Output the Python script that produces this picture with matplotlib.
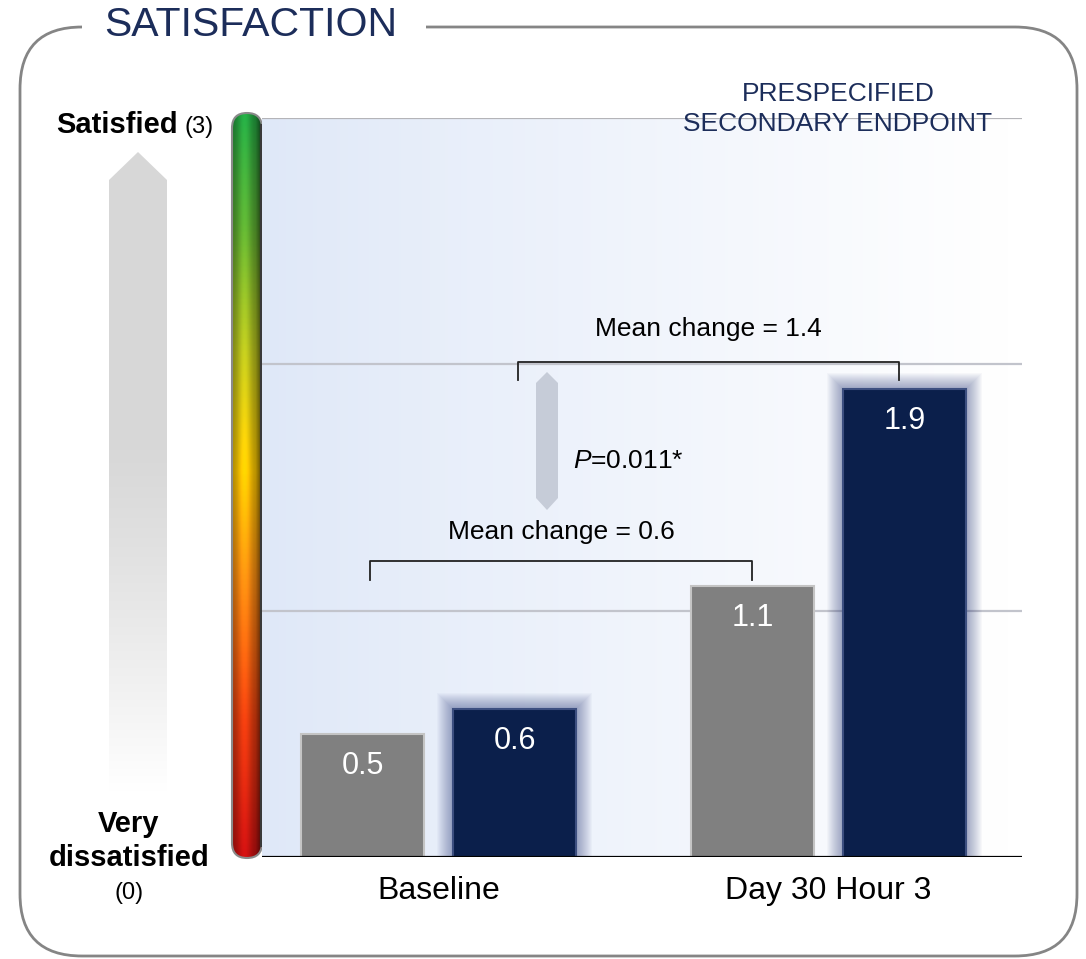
import numpy as np
import matplotlib
matplotlib.use("Agg")
import matplotlib.pyplot as plt
from matplotlib.patches import FancyBboxPatch, Polygon, Rectangle
from matplotlib.colors import LinearSegmentedColormap, to_rgb

plt.rcParams['font.family'] = ['Liberation Sans', 'DejaVu Sans']
plt.rcParams['mathtext.fontset'] = 'custom'
plt.rcParams['mathtext.it'] = 'Liberation Sans:italic'
plt.rcParams['mathtext.rm'] = 'Liberation Sans'

# ---------------- data ----------------
categories = ["Baseline", "Day 30 Hour 3"]
series_gray = [0.5, 1.1]
series_navy = [0.6, 1.9]
labels_gray = ["0.5", "1.1"]
labels_navy = ["0.6", "1.9"]
mean_change_labels = ["Mean change = 0.6", "Mean change = 1.4"]
p_label = r"$P$=0.011*"
title = "SATISFACTION"
subtitle = "PRESPECIFIED\nSECONDARY ENDPOINT"
y_max_label = ("Satisfied", "(3)")
y_min_label = ("Very\ndissatisfied", "(0)")
y_max = 3
gridlines = [1, 2]

NAVY = "#0b1f4b"
GRAY = "#808080"
TXT_NAVY = "#1c2d5a"

W, H = 1086, 959
fig = plt.figure(figsize=(W / 100, H / 100), dpi=100)
fig.patch.set_facecolor("white")

# pixel overlay axes
ax0 = fig.add_axes([0, 0, 1, 1], zorder=0)
ax0.set_xlim(0, W)
ax0.set_ylim(H, 0)
ax0.axis("off")

# frame
frame = FancyBboxPatch((20, 27), 1057, 929, boxstyle="round,pad=0,rounding_size=62",
                       facecolor="none", edgecolor="#858585", lw=2.0)
ax0.add_patch(frame)
ax0.add_patch(Rectangle((82, 15), 344, 25, facecolor="white", edgecolor="none", zorder=3))
ax0.text(251, 25, title, fontsize=29.5, color=TXT_NAVY, ha="center", va="center", zorder=4)

# big gray arrow on the left
arrow_poly = Polygon([(109, 792), (109, 180), (138, 152), (167, 180), (167, 792)],
                     closed=True, facecolor="none", edgecolor="none")
ax0.add_patch(arrow_poly)
rows = np.linspace(0, 1, 300)
val = np.where(rows < 0.45, 0.845, 0.845 + (1 - 0.845) * ((rows - 0.45) / 0.55) ** 1.2)
arr_img = np.repeat(val[:, None], 4, axis=1)
arr_rgb = np.dstack([arr_img, arr_img, arr_img])
im = ax0.imshow(arr_rgb, extent=(109, 167, 792, 152), aspect="auto", zorder=1)
im.set_clip_path(arrow_poly)

# left labels
ax0.text(178, 133, y_max_label[0], fontsize=21, fontweight="bold", ha="right", va="baseline")
ax0.text(184, 133, y_max_label[1], fontsize=17, ha="left", va="baseline")
ax0.text(129, 841, y_min_label[0], fontsize=21, fontweight="bold", ha="center", va="center",
         linespacing=1.25)
ax0.text(129, 893, y_min_label[1], fontsize=17, ha="center", va="center")

# gradient tube
tube = FancyBboxPatch((232, 113), 30, 745, boxstyle="round,pad=0,rounding_size=15",
                      facecolor="none", edgecolor="#8a8a8a", lw=1.5, zorder=3)
ax0.add_patch(tube)
cmap = LinearSegmentedColormap.from_list("sat", [
    (0.0, "#c01010"), (0.18, "#de3a0e"), (0.38, "#f28a10"), (0.52, "#f6c200"),
    (0.68, "#b4bc1c"), (0.85, "#5aa830"), (1.0, "#22a040")])
ny, nx = 400, 40
yy = np.linspace(1, 0, ny)
cols = cmap(yy)[:, :3]
t = np.linspace(0, 1, nx)
shade = 0.72 + 0.40 * np.exp(-((t - 0.42) / 0.25) ** 2)
shade = np.where(t > 0.8, shade * (1 - (t - 0.8) * 2.2), shade)
img = np.clip(cols[:, None, :] * shade[None, :, None], 0, 1)
tim = ax0.imshow(img, extent=(232, 262, 858, 113), aspect="auto", zorder=2)
tim.set_clip_path(tube)
ax0.plot([261, 261], [125, 846], color="#3a3a3a", lw=1.5, zorder=3)

# ---------------- main axes ----------------
L, R, T, B = 262, 1022, 118, 857
ax = fig.add_axes([L / W, (H - B) / H, (R - L) / W, (B - T) / H], zorder=1)
ax.set_facecolor("none")
xlim = (-0.4526, 1.496)
ax.set_xlim(*xlim)
ax.set_ylim(0, y_max)
px_x = (xlim[1] - xlim[0]) / (R - L)
px_y = y_max / (B - T)

# background gradient
gx = np.linspace(0, 1, 300)
blend = np.clip(gx / 0.98, 0, 1) ** 0.9
c0 = np.array(to_rgb("#dfe8f8"))
c1 = np.array([1.0, 1.0, 1.0])
bg = c0[None, :] * (1 - blend[:, None]) + c1[None, :] * blend[:, None]
bg_img = np.repeat(bg[None, :, :], 10, axis=0)
ax.imshow(bg_img, extent=(xlim[0], xlim[1], 0, y_max), aspect="auto", zorder=0)

for g in gridlines:
    ax.axhline(g, color="#c2c4cc", lw=1.6, zorder=1)
ax.axhline(y_max, color="#b4b4b8", lw=1.6, zorder=1)

# small double arrow (decorative, pixel coordinates)
ax.add_patch(Polygon([(536, 383), (547, 372), (558, 383), (558, 498), (547, 510), (536, 498)],
                     closed=True, facecolor="#c6ccd8", edgecolor="none", zorder=2,
                     transform=ax0.transData, clip_on=False))

x = np.arange(len(categories))
off = 0.195
bw = 0.315

# glow behind navy bars
for xi, v in zip(x + off, series_navy):
    for k in range(1, 17):
        ax.add_patch(Rectangle((xi - bw / 2 - k * px_x, 0), bw + 2 * k * px_x, v + k * px_y,
                               facecolor="#2a3a7a", alpha=0.032, edgecolor="none", zorder=2))

ax.bar(x - off, series_gray, width=bw, color=GRAY, edgecolor="#c4c4c4", lw=1.5, zorder=3)
ax.bar(x + off, series_navy, width=bw, color=NAVY, edgecolor="#3d4f80", lw=1.5, zorder=3)

for xi, v, s in zip(x - off, series_gray, labels_gray):
    ax.text(xi, v - 0.13, s, color="white", fontsize=22, ha="center", va="center", zorder=4)
for xi, v, s in zip(x + off, series_navy, labels_navy):
    ax.text(xi, v - 0.13, s, color="white", fontsize=22, ha="center", va="center", zorder=4)

ax.axhline(0, color="black", lw=1.6, zorder=5)

# brackets
def bracket(x0, x1, y, drop, label, ty):
    ax.plot([x0, x0, x1, x1], [y - drop, y, y, y - drop], color="#222222", lw=1.3, zorder=4)
    ax.text((x0 + x1) / 2, ty, label, fontsize=19, ha="center", va="center", zorder=4)

bracket(x[0] - off + 0.02, x[1] - off, 1.2, 0.075, mean_change_labels[0], 1.32)
bracket(x[0] + off + 0.01, x[1] + off - 0.015, 2.01, 0.072, mean_change_labels[1], 2.145)
ax.text(0.345, 1.608, p_label, fontsize=19, ha="left", va="center", zorder=4)

ax.set_xticks(x)
ax.set_xticklabels(categories, fontsize=23)
ax.tick_params(axis="x", length=0, pad=13.5)
ax.set_yticks([])
for s in ax.spines.values():
    s.set_visible(False)

# subtitle on top of everything
fig.text(838 / W, 1 - 109 / H, subtitle, fontsize=19, color=TXT_NAVY, ha="center", va="center",
         linespacing=1.3, zorder=10)

fig.savefig("out.png", dpi=100)
